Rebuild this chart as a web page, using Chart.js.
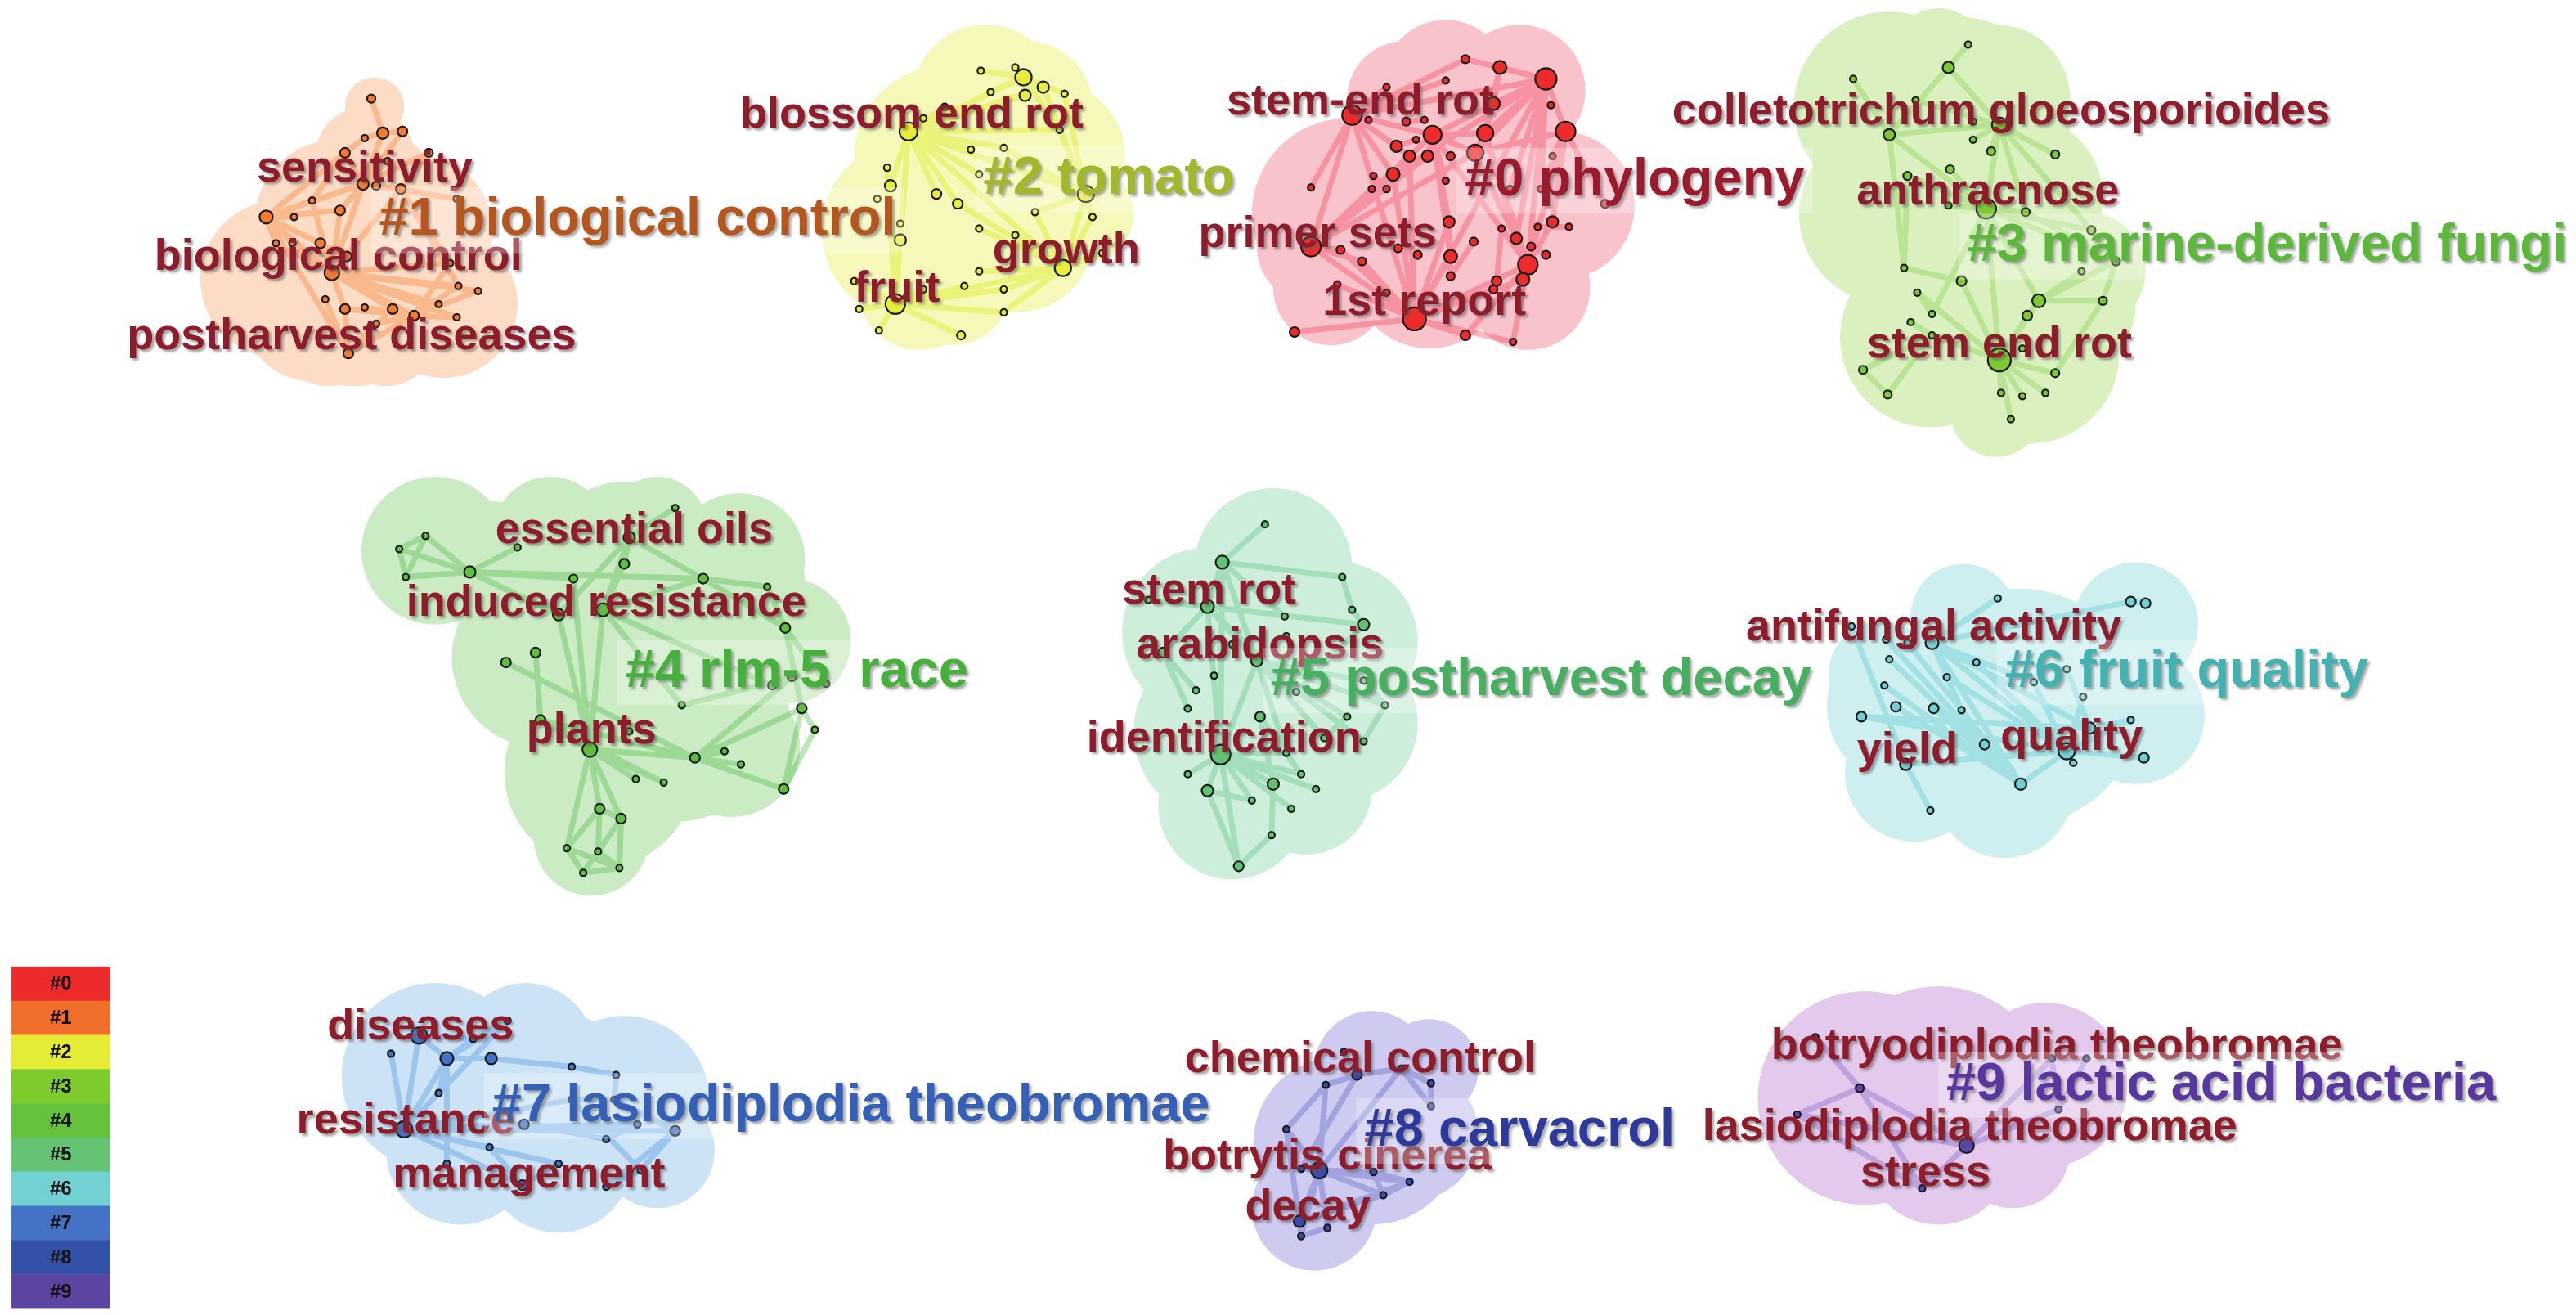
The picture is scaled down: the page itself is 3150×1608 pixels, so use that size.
<!DOCTYPE html>
<html>
<head>
<meta charset="utf-8">
<script src="https://cdn.jsdelivr.net/npm/chart.js@4.4.1/dist/chart.umd.min.js"></script>
<style>
  html, body { margin: 0; padding: 0; background: #fff; }
  #wrap { width: 3150px; height: 1608px; position: relative; }
</style>
</head>
<body>
<div id="wrap"><canvas id="net"></canvas></div>
<script>
// mapa de clusters (coordenadas en un lienzo de 1568 x 800)

const clusterIds = ["#0", "#1", "#2", "#3", "#4", "#5", "#6", "#7", "#8", "#9"];

const clusterNames = [
  "#0 phylogeny", "#1 biological control", "#2 tomato", "#3 marine-derived fungi",
  "#4 rlm-5  race", "#5 postharvest decay", "#6 fruit quality",
  "#7 lasiodiplodia theobromae", "#8 carvacrol", "#9 lactic acid bacteria"
];
// donde va el nombre de cada cluster [x, y]
const clusterNamePos = [
  [995, 110], [388, 134], [675, 109], [1380, 150], [485, 409],
  [938, 414], [1331, 409], [518, 673], [925, 688], [1352, 660]
];

// palabras clave [texto, x, y]
const keywords = [
  ["stem-end rot", 828, 62], ["primer sets", 802, 143], ["1st report", 867, 184],
  ["sensitivity", 222, 103], ["biological control", 206, 157], ["postharvest diseases", 214, 205],
  ["blossom end rot", 555, 70], ["growth", 649, 153], ["fruit", 546, 176],
  ["colletotrichum gloeosporioides", 1218, 68], ["anthracnose", 1210, 117], ["stem end rot", 1217, 210],
  ["essential oils", 386, 323], ["induced resistance", 369, 367], ["plants", 360, 445],
  ["stem rot", 736, 360], ["arabidopsis", 767, 393], ["identification", 745, 450],
  ["antifungal activity", 1177, 382], ["yield", 1161, 457], ["quality", 1261, 449],
  ["diseases", 256, 625], ["resistance", 247, 682], ["management", 322, 715],
  ["chemical control", 828, 645], ["botrytis cinerea", 808, 704], ["decay", 796, 735],
  ["botryodiplodia theobromae", 1252, 637], ["lasiodiplodia theobromae", 1199, 686], ["stress", 1172, 714]
];

// nodos [x, y, radio]
const nodes0 = [
  [892,36,2.5],[913,41,4],[941,48,6.5],[880,49,2],[844,53,2],[909,63,4],[944,64,2],[823,70,6],
  [833,73,2],[856,74,2.5],[867,73,2],[872,82,5.5],[862,85,2],[904,81,5],[953,80,6],[850,89,3.5],
  [858,95,3.5],[869,95,3.5],[883,95,2.5],[898,93,5],[945,95,2],[848,106,4],[836,107,2],[880,110,2],
  [798,114,2],[835,115,2],[844,115,2],[919,115,2],[938,115,2],[977,124,2.5],[882,135,3.5],[914,139,2],
  [945,135,3.5],[936,138,2],[955,138,2],[798,150,6],[816,152,2.5],[851,151,2.5],[863,155,2.5],[883,156,4],
  [923,145,3.5],[932,150,2.5],[941,155,2.5],[897,147,2.5],[829,159,2.5],[930,161,6],[883,168,2.5],[927,170,4],
  [911,171,3],[909,176,2.5],[814,173,2],[844,178,2],[861,194,7],[892,204,3],[921,208,2],[788,202,3]
];
const nodes1 = [
  [226,60,2.5],[233,81,3.5],[245,80,3],[222,84,2],[210,93,3],[261,93,2.5],[236,98,2],[221,112,3.5],
  [229,113,2.5],[244,115,3],[190,122,2],[207,128,3],[179,132,2],[162,132,4],[278,121,2],[195,148,3],
  [178,148,2],[168,148,2],[211,156,3],[202,166,4.5],[274,160,2],[279,174,2],[291,177,2],[198,182,2],
  [210,188,3],[222,187,2],[239,188,3],[252,192,3],[267,185,2],[278,193,2],[229,197,2],[212,215,3]
];
const nodes2 = [
  [597,43,2],[618,41,2],[623,47,5],[603,56,2],[624,58,3.5],[635,53,3.5],[648,57,2],[575,65,2],
  [562,72,2],[553,80,5.5],[645,79,2],[591,91,2],[611,90,2],[540,102,2],[542,113,3.5],[596,106,2],
  [570,118,3],[583,124,3],[534,121,2],[661,118,5],[630,129,2],[665,132,2],[548,136,2],[548,146,3.5],
  [596,139,2],[618,143,2],[647,163,5],[671,154,2],[596,165,2],[520,171,2],[545,185,6],[562,176,2],
  [587,174,2],[611,176,2],[523,188,2],[611,190,2],[535,201,2],[585,204,2.5]
];
const nodes3 = [
  [1198,27,2],[1186,41,3.5],[1128,48,2],[1166,61,2],[1217,76,4.5],[1201,74,2],[1150,82,3.5],[1201,85,2],
  [1212,92,2.5],[1251,94,2.5],[1187,103,2.5],[1161,107,2.5],[1209,127,6],[1186,125,2],[1233,129,2.5],[1273,140,2.5],
  [1288,159,2.5],[1267,165,2],[1159,163,2],[1194,171,3],[1167,178,2],[1241,183,4],[1280,183,2.5],[1234,192,3],
  [1176,191,2],[1163,196,2],[1176,204,2],[1217,219,7],[1231,212,2],[1134,225,2.5],[1251,227,2.5],[1149,240,2.5],
  [1218,239,2],[1231,241,2],[1245,239,2],[1224,255,2]
];
const nodes4 = [
  [259,326,2],[243,334,2],[247,351,2],[315,333,2],[286,348,3.5],[411,309,2],[383,327,3.5],[380,343,3],
  [349,352,2.5],[428,352,3],[467,357,2],[340,374,3.5],[367,371,4],[478,382,3],[326,397,3],[308,403,3],
  [470,417,2.5],[482,412,2.5],[503,416,2],[415,429,2],[488,431,3],[329,438,3],[383,445,2],[496,444,2],
  [359,456,4.5],[441,457,2],[423,461,3],[451,465,2],[387,474,2],[404,476,2],[477,480,3],[365,492,3],
  [378,498,3],[345,516,2],[364,518,2],[355,531,2],[377,528,2]
];
const nodes5 = [
  [770,319,2],[744,342,4],[817,351,2],[699,365,2],[735,369,4],[782,375,2],[823,371,2],[830,380,3.5],
  [783,387,2],[750,392,2],[708,397,3],[765,402,3.5],[739,411,2],[830,414,2],[789,421,2],[728,420,2],
  [843,429,2],[723,431,2],[767,436,3],[820,436,2],[806,449,2],[830,451,2],[783,458,2],[743,459,6],
  [723,471,2],[792,471,2],[775,477,3.5],[735,481,3.5],[801,480,2],[762,487,2],[786,492,2],[774,508,2],
  [754,527,3]
];
const nodes6 = [
  [1216,364,2],[1297,366,3],[1306,367,3],[1127,381,2],[1176,391,4],[1161,391,2],[1148,389,2],[1150,401,2],
  [1203,403,2],[1185,412,2],[1258,407,2],[1238,415,2],[1147,417,2],[1268,424,2],[1154,430,3],[1177,431,3],
  [1194,432,2],[1133,436,3],[1297,438,2],[1272,443,3.5],[1208,453,3],[1258,457,5],[1262,464,2],[1305,461,3],
  [1160,465,3.5],[1230,477,3.5],[1175,493,2]
];
const nodes7 = [
  [255,630,5],[238,641,2],[272,644,4],[299,644,3.5],[288,632,2],[309,621,2],[348,649,2],[375,654,2],
  [267,665,2],[348,669,2],[374,669,2],[246,687,5],[319,684,3],[388,684,2],[411,688,3],[369,693,2],
  [298,698,2],[272,708,2],[340,708,2],[390,712,2],[318,721,3],[369,722,2]
];
const nodes8 = [
  [818,640,2],[826,654,3],[807,660,2],[853,650,2],[871,659,2],[871,673,2],[783,687,2],[803,712,5],
  [792,711,2],[836,713,2],[858,719,2],[842,727,2],[791,743,3.5],[808,747,2],[792,752,2]
];
const nodes9 = [
  [1105,631,2],[1132,662,2.5],[1094,678,2],[1197,697,4.5],[1170,723,2],[1253,675,2],[1270,644,2],[1249,644,2]
];

// enlaces (indices de nodos)
const links0 = [
  [2,0],[2,1],[2,5],[2,13],[2,11],[2,14],[2,19],[2,27],[2,28],[2,40],[2,45],[2,52],[2,7],[2,21],
  [7,0],[7,3],[7,4],[7,11],[7,15],[7,21],[7,24],[7,35],[7,52],[7,16],
  [52,35],[52,36],[52,39],[52,44],[52,45],[52,47],[52,49],[52,50],[52,51],[52,53],[52,54],[52,55],[52,30],[52,21],[52,16],
  [45,14],[45,13],[45,19],[45,32],[45,40],[45,47],[45,53],[45,54],[45,11],[45,31],
  [35,21],[35,25],[35,36],[35,44],[35,11],[35,17],[35,19],
  [11,13],[11,19],[11,16],[11,17],[11,39],[11,30],[11,23],
  [14,20],[14,28],[14,32],[14,29],[14,19],[13,5],[13,1],[13,19],[13,40],
  [31,48],[43,46],[30,46],[37,38],[41,42],[1,5],[9,10],[12,15],[33,34],[22,26]
];
const links1 = [
  [19,13],[19,7],[19,9],[19,11],[19,15],[19,16],[19,17],[19,18],[19,21],[19,22],[19,24],[19,26],[19,27],[19,29],[19,28],[19,20],[19,10],
  [7,1],[7,2],[7,4],[7,6],[7,9],[7,13],[7,14],[7,11],[7,8],[7,5],
  [13,10],[13,11],[13,12],[13,15],[13,16],[13,17],[13,18],[13,4],[13,31],
  [27,20],[27,21],[27,22],[27,26],[27,28],[27,29],[27,30],[27,31],[27,24],[27,25],
  [9,14],[9,5],[9,20],[9,21],[9,8],[31,23],[31,24],[31,30],[31,26],[1,0],[1,2],[1,3],[4,3],[4,10]
];
const links2 = [
  [9,2],[9,4],[9,5],[9,10],[9,19],[9,26],[9,14],[9,16],[9,17],[9,23],[9,30],[9,11],[9,12],[9,15],[9,7],[9,8],
  [30,26],[30,23],[30,14],[30,29],[30,34],[30,36],[30,37],[30,31],[30,32],[30,33],[30,35],[30,13],
  [26,19],[26,20],[26,21],[26,27],[26,24],[26,25],[26,28],[26,33],[26,35],[26,17],
  [2,0],[2,1],[2,3],[2,4],[2,5],[2,6],[2,10],[19,10],[19,5],[19,6],[19,20],[19,21],[19,12]
];
const links3 = [
  [0,1],[1,4],[1,6],[2,6],[3,4],[4,12],[4,6],[4,9],[4,14],[4,15],[4,7],[4,8],[6,12],[6,18],
  [12,14],[12,21],[12,27],[12,15],[12,16],[12,11],[12,13],[12,10],[12,24],[14,16],[15,16],[16,22],
  [21,23],[21,27],[21,16],[22,30],[21,17],[23,27],[27,28],[27,30],[27,32],[27,33],[27,34],[27,35],
  [27,19],[27,26],[27,20],[29,31],[29,26],[31,26],[19,18],[20,24],[25,26],[11,18],[21,22]
];
const links4 = [
  [0,1],[0,2],[1,2],[0,4],[2,4],[1,4],[3,4],[4,8],[4,9],[4,11],[6,7],[6,5],[6,12],[6,9],[6,11],
  [7,12],[12,24],[12,9],[12,16],[12,19],[8,24],[14,21],[15,26],[11,24],[21,24],[21,26],[24,26],
  [24,28],[24,29],[24,31],[24,32],[24,33],[26,30],[26,20],[26,27],[26,25],[26,17],[13,10],[13,20],
  [13,18],[13,9],[20,30],[20,23],[23,30],[19,17],[31,32],[31,33],[31,34],[32,35],[32,36],[33,35],
  [34,36],[35,36],[33,36],[21,29],[9,10]
];
const links5 = [
  [0,1],[1,4],[1,5],[1,11],[1,23],[2,6],[2,1],[4,3],[4,10],[4,11],[4,23],[4,7],[4,14],[10,17],
  [10,15],[11,22],[11,23],[11,16],[11,13],[11,20],[11,21],[11,19],[23,24],[23,27],[23,26],[23,30],
  [23,25],[23,28],[23,29],[23,22],[23,32],[27,32],[27,29],[26,31],[32,31],[13,16],[16,21],[19,20],
  [6,7],[7,14],[18,25],[18,26]
];
const links6 = [
  [0,4],[1,2],[1,4],[3,24],[4,25],[4,21],[4,19],[4,16],[4,11],[6,25],[5,25],[7,25],[12,25],[14,25],
  [15,25],[16,25],[17,21],[17,19],[24,21],[24,26],[20,25],[21,25],[21,22],[21,13],[21,23],[21,18],
  [19,18],[19,10],[11,21],[8,21],[9,21]
];
const links7 = [
  [0,2],[0,4],[0,11],[1,11],[2,3],[2,4],[2,5],[2,11],[2,17],[3,6],[4,5],[5,11],[11,12],[11,14],
  [11,16],[11,13],[11,9],[11,18],[11,20],[6,7],[7,10],[10,14],[9,10],[9,19],[14,19],[14,21],
  [13,15],[12,15],[18,20],[19,21],[16,20],[2,8]
];
const links8 = [
  [0,1],[1,3],[1,2],[2,7],[3,4],[3,5],[4,5],[6,7],[6,12],[7,9],[7,10],[7,11],[7,12],[7,13],[7,14],
  [7,8],[9,10],[9,11],[10,11],[12,14],[13,14],[12,10],[12,11],[2,6],[3,7],[1,8]
];
const links9 = [
  [0,1],[1,2],[1,3],[1,4],[2,3],[3,4],[3,5],[5,6],[6,7],[5,7],[3,7],[2,4]
];

// nubes de fondo: circulos [x, y, radio] que juntos hacen la mancha del cluster
const blob0 = [[880,50,38],[925,55,40],[850,80,35],[900,100,60],[820,130,58],[950,125,45],[870,165,47],
               [810,175,35],[930,175,38],[890,130,70],[800,150,35],[855,60,35]];
const blob1 = [[228,65,18],[222,95,30],[205,135,50],[255,140,45],[170,170,48],[215,180,55],[270,185,45],
               [200,205,30],[235,205,30],[225,120,42],[240,160,60],[190,190,42]];
const blob2 = [[600,60,45],[575,95,55],[640,95,45],[555,140,55],[620,145,45],[560,175,38],[660,130,30],
               [605,110,65],[625,65,40],[580,175,35]];
const blob3 = [[1150,65,58],[1215,60,45],[1150,130,55],[1230,120,50],[1270,165,36],[1175,205,55],[1235,215,55],
               [1215,250,28],[1190,80,70],[1210,160,72],[1180,35,30],[1255,185,45]];
const blob4 = [[265,335,45],[335,325,35],[400,320,30],[450,340,40],[480,390,38],[330,400,55],[420,400,60],
               [365,470,58],[360,510,35],[445,455,42],[380,345,52],[440,355,50],[410,430,70],[300,345,40]];
const blob5 = [[775,345,48],[735,385,52],[815,390,48],[745,445,55],[815,440,48],[750,490,45],[795,480,40],
               [775,420,72]];
const blob6 = [[1195,375,32],[1300,380,38],[1160,430,48],[1230,440,58],[1300,435,42],[1220,480,42],[1165,470,42],
               [1230,430,72],[1145,410,32]];
const blob7 = [[265,655,57],[320,640,42],[380,670,52],[340,705,45],[400,700,35],[280,700,45],[330,675,62]];
const blob8 = [[835,650,35],[815,695,52],[800,735,38],[860,690,40],[870,650,30],[835,690,55]];
const blob9 = [[1135,668,65],[1180,700,45],[1245,660,50],[1225,700,35],[1180,668,68]];

// colores
const nodeColors  = ["#EE2B2B", "#F27A32", "#E8EC3A", "#7DC934", "#5EBF3E", "#62C272", "#72D0D4", "#4472C4", "#3A4AAE", "#5B45A8"];
const linkColors  = ["rgba(240,60,85,0.36)", "rgba(245,125,50,0.38)", "rgba(225,235,60,0.5)", "rgba(120,200,60,0.32)",
                     "rgba(80,190,70,0.38)", "rgba(90,195,130,0.36)", "rgba(90,200,205,0.38)", "rgba(80,150,225,0.38)",
                     "rgba(70,80,190,0.32)", "rgba(110,80,190,0.32)"];
const blobColors  = ["#F9C3CC", "#FDDCC6", "#F5F8B8", "#DAF0BF", "#CBEBC4", "#CDEEDB", "#CDEFF0", "#CCE3F6", "#CECBF0", "#E3C9EC"];
const nameColors  = ["#9A1B2E", "#B5561E", "#A2B82A", "#5CB83A", "#45B03A", "#47B060", "#45B2B2", "#3560B8", "#2D3A9C", "#5838A0"];
const legendColors = ["#EE2B2B", "#F06E2A", "#E6EB35", "#7DCB2D", "#63C23A", "#65C474", "#74D1D3", "#4472C4", "#3451A8", "#5B45A0"];

const allNodes = [nodes0, nodes1, nodes2, nodes3, nodes4, nodes5, nodes6, nodes7, nodes8, nodes9];
const allLinks = [links0, links1, links2, links3, links4, links5, links6, links7, links8, links9];
const allBlobs = [blob0, blob1, blob2, blob3, blob4, blob5, blob6, blob7, blob8, blob9];

// pixeles por unidad
function unit(chart) {
  const sx = chart.scales.x;
  return sx.getPixelForValue(1) - sx.getPixelForValue(0);
}
function toPt(a) { return { x: a[0], y: a[1], r: a[2] }; }

let datasets = [];

// manchas (al fondo)
allBlobs.forEach((b, i) => {
  datasets.push({
    data: b.map(toPt),
    order: 30,
    pointRadius: c => c.raw ? c.raw.r * unit(c.chart) : 0,
    pointBackgroundColor: blobColors[i],
    pointBorderWidth: 0,
    showLine: false
  });
});

// enlaces
allLinks.forEach((lk, i) => {
  let pts = [];
  lk.forEach(p => {
    pts.push(toPt(allNodes[i][p[0]]));
    pts.push(toPt(allNodes[i][p[1]]));
    pts.push({ x: null, y: null });
  });
  datasets.push({
    data: pts,
    order: 20,
    showLine: true,
    spanGaps: false,
    borderColor: linkColors[i],
    borderWidth: 7,
    pointRadius: 0
  });
});

// nodos
allNodes.forEach((n, i) => {
  datasets.push({
    data: n.map(toPt),
    order: 10,
    pointRadius: c => c.raw ? c.raw.r * unit(c.chart) : 0,
    pointBackgroundColor: nodeColors[i],
    pointBorderColor: "#1a1a1a",
    pointBorderWidth: 2.2,
    showLine: false
  });
});

// textos y leyenda
const labelPlugin = {
  id: "etiquetas",
  afterDatasetsDraw(chart) {
    const ctx = chart.ctx;
    const sx = chart.scales.x, sy = chart.scales.y;
    const u = unit(chart);

    ctx.save();
    ctx.textAlign = "center";
    ctx.textBaseline = "middle";

    // palabras clave
    ctx.font = "bold " + Math.round(27 * u) + "px 'Liberation Sans', Arial, sans-serif";
    keywords.forEach(k => {
      ctx.shadowColor = "rgba(90,90,90,0.55)";
      ctx.shadowOffsetX = 3;
      ctx.shadowOffsetY = 3;
      ctx.shadowBlur = 3;
      ctx.fillStyle = "#8E1C2B";
      ctx.fillText(k[0], sx.getPixelForValue(k[1]), sy.getPixelForValue(k[2]));
    });

    // nombres de cluster (encima)
    ctx.font = "bold " + Math.round(32.5 * u) + "px 'Liberation Sans', Arial, sans-serif";
    clusterNames.forEach((name, i) => {
      const px = sx.getPixelForValue(clusterNamePos[i][0]);
      const py = sy.getPixelForValue(clusterNamePos[i][1]);
      const w = ctx.measureText(name).width;
      ctx.shadowColor = "transparent";
      ctx.fillStyle = "rgba(255,255,255,0.28)";
      ctx.fillRect(px - w / 2 - 10, py - 20 * u, w + 20, 40 * u);
      ctx.shadowColor = "rgba(90,90,90,0.5)";
      ctx.shadowOffsetX = 3;
      ctx.shadowOffsetY = 3;
      ctx.shadowBlur = 3;
      ctx.fillStyle = nameColors[i];
      ctx.fillText(name, px, py);
    });
    ctx.restore();

    // leyenda de colores abajo a la izquierda
    ctx.save();
    const x0 = sx.getPixelForValue(7), x1 = sx.getPixelForValue(67);
    const top = 588, h = 20.8;
    clusterIds.forEach((id, i) => {
      const y0 = sy.getPixelForValue(top + i * h);
      const y1 = sy.getPixelForValue(top + (i + 1) * h);
      ctx.fillStyle = legendColors[i];
      ctx.fillRect(x0, y0, x1 - x0, y1 - y0 + 0.5);
      ctx.fillStyle = "#111";
      ctx.font = "bold " + Math.round(12 * u) + "px 'Liberation Sans', Arial, sans-serif";
      ctx.textAlign = "center";
      ctx.textBaseline = "middle";
      ctx.fillText(id, (x0 + x1) / 2, (y0 + y1) / 2 + 1);
    });
    ctx.restore();
  }
};

new Chart(document.getElementById("net"), {
  type: "scatter",
  data: { datasets: datasets },
  options: {
    responsive: true,
    maintainAspectRatio: false,
    animation: false,
    events: [],
    layout: { padding: 0 },
    scales: {
      x: { type: "linear", min: 0, max: 1568, display: false },
      y: { type: "linear", min: 0, max: 800, reverse: true, display: false }
    },
    plugins: {
      legend: { display: false },
      tooltip: { enabled: false }
    }
  },
  plugins: [labelPlugin]
});
</script>
</body>
</html>
